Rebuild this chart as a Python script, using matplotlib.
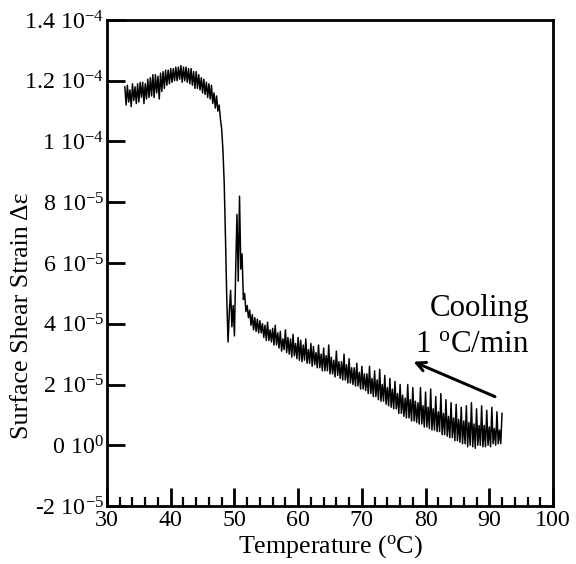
import numpy as np
import matplotlib
matplotlib.use("Agg")
import matplotlib.pyplot as plt

plt.rcParams['font.family'] = ['Liberation Serif', 'DejaVu Serif']
plt.rcParams['mathtext.fontset'] = 'custom'
plt.rcParams['mathtext.rm'] = 'Liberation Serif'
plt.rcParams['mathtext.it'] = 'Liberation Serif:italic'
plt.rcParams['mathtext.bf'] = 'Liberation Serif:bold'

# ---- data (strain in units of 1e-5), sampled every 0.2 C from 32.8 C to 92.0 C ----
t_start, t_end = 32.8, 92.0
strain_e5 = [
    11.80, 11.20, 11.85, 11.30, 11.70, 11.15, 11.90, 11.35, 11.80, 11.25,   # 32.8-34.6
    11.90, 11.30, 11.95, 11.45, 11.95, 11.25, 11.90, 11.40, 12.05, 11.45,   # 34.8-36.6
    12.10, 11.50, 12.20, 11.45, 12.20, 11.60, 12.15, 11.40, 12.25, 11.65,   # 36.8-38.6
    12.30, 11.75, 12.35, 11.85, 12.35, 11.90, 12.40, 11.95, 12.40, 12.00,   # 38.8-40.6
    12.45, 12.00, 12.45, 12.05, 12.50, 11.95, 12.45, 12.00, 12.45, 11.95,   # 40.8-42.6
    12.40, 11.90, 12.40, 11.85, 12.30, 11.75, 12.30, 11.75, 12.20, 11.70,   # 42.8-44.6
    12.10, 11.60, 12.05, 11.55, 11.95, 11.45, 11.90, 11.40, 11.85, 11.25,   # 44.8-46.6
    11.60, 11.10, 11.50, 11.00, 11.20, 10.75, 10.40, 9.70, 8.60, 6.80,      # 46.8-48.6
    4.80, 3.40, 4.40, 5.10, 3.90, 4.60, 3.60, 5.80, 7.60, 5.40,             # 48.8-50.6
    8.20, 5.80, 6.30, 4.80, 5.00, 4.40, 4.60, 4.20, 4.45, 3.95,             # 50.8-52.6
    4.30, 3.80, 4.20, 3.75, 4.15, 3.70, 4.10, 3.70, 4.00, 3.55,             # 52.8-54.6
    3.95, 3.45, 4.05, 3.45, 3.80, 3.40, 3.85, 3.30, 3.95, 3.30,             # 54.8-56.6
    3.70, 3.20, 3.75, 3.10, 3.50, 3.15, 3.80, 3.05, 3.55, 3.00,             # 56.8-58.6
    3.50, 2.90, 3.65, 2.95, 3.35, 2.85, 3.55, 2.80, 3.45, 2.75,             # 58.8-60.6
    3.30, 2.80, 3.50, 2.70, 3.15, 2.70, 3.35, 2.60, 3.25, 2.65,             # 60.8-62.6
    3.05, 2.55, 3.30, 2.55, 3.00, 2.45, 3.20, 2.45, 2.95, 2.45,             # 62.8-64.6
    3.30, 2.35, 2.90, 2.35, 2.80, 2.25, 3.10, 2.30, 2.75, 2.20,             # 64.8-66.6
    2.75, 2.15, 3.00, 2.15, 2.65, 2.05, 2.85, 2.05, 2.55, 2.00,             # 66.8-68.6
    2.55, 1.95, 2.70, 1.95, 2.40, 1.85, 2.60, 1.85, 2.35, 1.80,             # 68.8-70.6
    2.35, 1.70, 2.60, 1.70, 2.20, 1.60, 2.45, 1.60, 2.15, 1.50,             # 70.8-72.6
    2.50, 1.45, 2.00, 1.45, 2.30, 1.35, 1.90, 1.30, 2.20, 1.25,             # 72.8-74.6
    1.85, 1.20, 2.10, 1.20, 1.70, 1.05, 2.00, 1.05, 1.65, 0.95,             # 74.8-76.6
    1.55, 0.90, 2.00, 0.90, 1.50, 0.80, 1.90, 0.80, 1.45, 0.75,             # 76.8-78.6
    1.40, 0.70, 1.90, 0.70, 1.30, 0.60, 1.75, 0.60, 1.25, 0.55,             # 78.8-80.6
    1.85, 0.50, 1.20, 0.50, 1.60, 0.45, 1.10, 0.45, 1.70, 0.35,             # 80.8-82.6
    1.05, 0.35, 1.50, 0.30, 0.95, 0.25, 1.40, 0.25, 0.90, 0.15,             # 82.8-84.6
    1.35, 0.15, 0.85, 0.10, 1.25, 0.05, 0.80, 0.05, 1.30, -0.05,            # 84.8-86.6
    0.75, 0.00, 1.40, -0.05, 0.70, -0.10, 1.20, 0.00, 0.65, 0.00,           # 86.8-88.6
    1.30, -0.05, 0.65, -0.05, 1.15, 0.00, 0.60, -0.05, 1.25, 0.05,          # 88.8-90.6
    0.55, 0.00, 1.10, 0.05, 0.50, 0.05, 1.05,                               # 90.8-92.0
]
temperature = np.linspace(t_start, t_end, len(strain_e5))
strain = np.array(strain_e5) * 1e-5

y_ticks = [-2e-5, 0, 2e-5, 4e-5, 6e-5, 8e-5, 1e-4, 1.2e-4, 1.4e-4]
y_ticklabels = [r'-2 10$^{\mathregular{-5}}$', r'0 10$^{\mathregular{0}}$',
                r'2 10$^{\mathregular{-5}}$', r'4 10$^{\mathregular{-5}}$',
                r'6 10$^{\mathregular{-5}}$', r'8 10$^{\mathregular{-5}}$',
                r'1 10$^{\mathregular{-4}}$', r'1.2 10$^{\mathregular{-4}}$',
                r'1.4 10$^{\mathregular{-4}}$']
x_ticks = [30, 40, 50, 60, 70, 80, 90, 100]

fig = plt.figure(figsize=(8, 564 / 72), dpi=72)
ax = fig.add_axes([107 / 576, 1 - 506 / 564, 446 / 576, 486 / 564])

ax.plot(temperature, strain, color='black', lw=1.5)

ax.set_xlim(30, 100)
ax.set_ylim(-2e-5, 1.4e-4)
ax.set_xticks(x_ticks)
ax.set_xticks(np.arange(30, 101, 2), minor=True)
ax.set_yticks(y_ticks)
ax.set_yticklabels(y_ticklabels)

for s in ax.spines.values():
    s.set_linewidth(2.8)
ax.tick_params(axis='both', which='major', direction='in', length=18, width=2.8,
               labelsize=24, pad=3, top=False, right=False)
ax.tick_params(axis='x', which='major', pad=4)
ax.tick_params(axis='x', which='minor', direction='in', length=9, width=2.2,
               top=False)
ax.tick_params(axis='y', which='minor', left=False, right=False)

ax.set_xlabel(r'Temperature ($^{\mathregular{o}}$C)', fontsize=26)
ax.xaxis.set_label_coords(0.5, -0.095)
ax.xaxis.label.set_va('baseline')
ax.set_ylabel('Surface Shear Strain Δε', fontsize=26)
ax.yaxis.set_label_coords(-0.19, 0.391)
ax.yaxis.label.set_va('center')

ax.annotate('', xy=(78.1, 2.75e-5), xytext=(90.9, 1.6e-5),
            arrowprops=dict(arrowstyle='->,head_length=0.9,head_width=0.45',
                            lw=3, color='black', shrinkA=0, shrinkB=0))
ax.text(96.25, 4.24e-5, 'Cooling', fontsize=31, ha='right', va='baseline')
ax.text(96.25, 3.08e-5, r'1 $^{\mathregular{o}}$C/min', fontsize=31,
        ha='right', va='baseline')

fig.savefig('out.png', dpi=72)
